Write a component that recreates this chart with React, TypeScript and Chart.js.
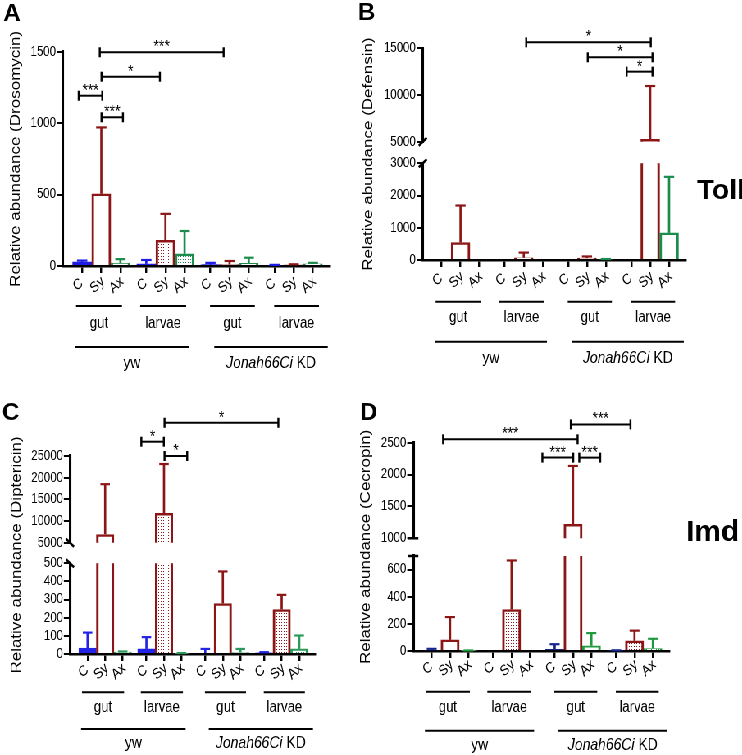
import React, { useEffect, useRef } from 'react';
import { Chart, registerables } from 'chart.js';

Chart.register(...registerables);

const SX = 0.82; // horizontal squeeze of the reference figure
const FONT = "'Liberation Sans', Arial, Helvetica, sans-serif";
const P = 3.35; // group period in bar units
const XMIN = -1;
const XMAX = 12.95;

// ---------------- data ----------------
const barLabels = ['C', 'Sy', 'Ax'];
const tissueLabels = ['gut', 'larvae', 'gut', 'larvae'];
const genotypeItalic = ['', 'Jonah66Ci'];
const genotypePlain = ['yw', ' KD'];

// order: yw gut C,Sy,Ax | yw larvae C,Sy,Ax | KD gut C,Sy,Ax | KD larvae C,Sy,Ax
const drosomycinMean = [30, 505, 20, 15, 180, 85, 10, 10, 18, 5, 8, 15];
const drosomycinErr = [8, 465, 28, 27, 185, 160, 12, 25, 40, 3, 4, 7];
const drosomycinAxis = [{ min: 0, max: 1500, step: 500 }];
const drosomycinBrackets = [
  { x1: 0.92, x2: 7.39, y: 1496, label: '***' },
  { x1: 1.01, x2: 4.06, y: 1325, label: '*' },
  { x1: -0.18, x2: 1.05, y: 1192, label: '***' },
  { x1: 1.01, x2: 2.13, y: 1041, label: '***' },
];

const defensinMean = [0, 540, 0, 0, 70, 0, 0, 60, 20, 0, 5250, 840];
const defensinErr = [0, 1150, 0, 0, 160, 0, 0, 50, 10, 0, 5710, 1740];
const defensinAxis = [
  { min: 5000, max: 15000, step: 5000 },
  { min: 0, max: 3000, step: 1000 },
];
const defensinBrackets = [
  { x1: 4.48, x2: 11.08, y: 15640, label: '*' },
  { x1: 7.74, x2: 11.17, y: 14036, label: '*' },
  { x1: 9.8, x2: 11.17, y: 12500, label: '*' },
];

const diptericinMean = [32, 6900, 10, 28, 11800, 3, 5, 278, 8, 7, 245, 28];
const diptericinErr = [86, 11600, 4, 65, 11350, 2, 23, 177, 20, 3, 81, 74];
const diptericinAxis = [
  { min: 5000, max: 25000, step: 5000 },
  { min: 0, max: 500, step: 100 },
];
const diptericinBrackets = [
  { x1: 4.38, x2: 10.86, y: 32670, label: '*' },
  { x1: 3.06, x2: 4.34, y: 28300, label: '*' },
  { x1: 4.38, x2: 5.67, y: 25000, label: '*' },
];

const cecropinMean = [5, 82, 3, 0, 305, 0, 13, 1220, 38, 3, 75, 18];
const cecropinErr = [11, 168, 1, 0, 362, 0, 37, 915, 94, 2, 75, 72];
const cecropinAxis = [
  { min: 1000, max: 2500, step: 500 },
  { min: 0, max: 700, step: 200 },
];
const cecropinBrackets = [
  { x1: 0.62, x2: 7.95, y: 2553, label: '***' },
  { x1: 7.58, x2: 10.83, y: 2787, label: '***' },
  { x1: 6.03, x2: 7.71, y: 2266, label: '***' },
  { x1: 8.04, x2: 9.18, y: 2266, label: '***' },
];

// ---------------- panel layout ----------------
const panels = [
  {
    key: 'A', letter: 'A', title: 'Relative abundance (Drosomycin)',
    mean: drosomycinMean, err: drosomycinErr, segs: drosomycinAxis, brackets: drosomycinBrackets,
    segH: [214.3], gapH: 0,
    box: { left: 0, top: 0, width: 355, height: 378 },
    area: { left: 63, right: 330, top: 51.7, bottom: 266 },
    titleX: 16, letterPos: [12, 14.7], side: null,
    breakStyle: 'none',
    colors: ['#1c1ce6', '#8c1616', '#1b8c4c'],
    dotted: [4, 5, 10, 11],
    offs: [19, 40, 57.5, 81, 97],
  },
  {
    key: 'B', letter: 'B', title: 'Relative abundance (Defensin)',
    mean: defensinMean, err: defensinErr, segs: defensinAxis, brackets: defensinBrackets,
    segH: [93.4, 96.7], gapH: 21.6,
    box: { left: 355, top: 0, width: 387, height: 378 },
    area: { left: 67.7, right: 331, top: 48.3, bottom: 260 },
    titleX: 13, letterPos: [11.5, 13.3], side: { text: 'Toll', x: 342, y: 191.7, size: 28 },
    breakStyle: 'slash',
    colors: ['#1c1ce6', '#8c1616', '#1b8c4c'],
    dotted: [],
    offs: [20, 41.7, 57.7, 81.7, 98.3],
  },
  {
    key: 'C', letter: 'C', title: 'Relative abundance (Diptericin)',
    mean: diptericinMean, err: diptericinErr, segs: diptericinAxis, brackets: diptericinBrackets,
    segH: [86.7, 90.7], gapH: 20.6,
    box: { left: 0, top: 378, width: 355, height: 377 },
    area: { left: 70, right: 315, top: 78, bottom: 276 },
    titleX: 17, letterPos: [10.8, 35.3], side: null,
    breakStyle: 'back',
    colors: ['#2323e6', '#8c1616', '#2a9a5a'],
    dotted: [4, 10, 11],
    offs: [17.7, 38.3, 53.3, 75, 89.3],
  },
  {
    key: 'D', letter: 'D', title: 'Relative abundance (Cecropin)',
    mean: cecropinMean, err: cecropinErr, segs: cecropinAxis, brackets: cecropinBrackets,
    segH: [95.6, 95], gapH: 17.7,
    box: { left: 355, top: 378, width: 387, height: 377 },
    area: { left: 58.3, right: 314.3, top: 64.7, bottom: 273 },
    titleX: 11, letterPos: [13.5, 35.3], side: { text: 'Imd', x: 331, y: 154.5, size: 30 },
    breakStyle: 'cap',
    colors: ['#17258f', '#8c1616', '#1f9a3c'],
    dotted: [4, 10, 11],
    offs: [17.3, 40.7, 56.3, 79.7, 94],
  },
];

// ---------------- helpers ----------------
function line(ctx: CanvasRenderingContext2D, x1: number, y1: number, x2: number, y2: number) {
  ctx.beginPath();
  ctx.moveTo(x1, y1);
  ctx.lineTo(x2, y2);
  ctx.stroke();
}

function dotPattern(ctx: CanvasRenderingContext2D, color: string) {
  const c = document.createElement('canvas');
  c.width = 3;
  c.height = 3;
  const g = c.getContext('2d')!;
  g.fillStyle = '#ffffff';
  g.fillRect(0, 0, 3, 3);
  g.fillStyle = color;
  g.fillRect(1, 1, 1, 1);
  return ctx.createPattern(c, 'repeat');
}

function makePlugin(cfg: any, pos: number[]) {
  const segCount = cfg.segs.length;
  const pix = (chart: any, v: number) => {
    for (let k = 0; k < segCount; k++) {
      const s = cfg.segs[k];
      if (v >= s.min && v <= s.max) return chart.scales['y' + k].getPixelForValue(v);
    }
    if (v > cfg.segs[0].max) return chart.scales.y0.getPixelForValue(v);
    return chart.scales['y' + (segCount - 1)].getPixelForValue(v);
  };
  return {
    id: 'decor' + cfg.key,
    afterDatasetsDraw(chart: any) {
      const ctx: CanvasRenderingContext2D = chart.ctx;
      const xs = chart.scales.x;
      const capHalf = Math.abs(xs.getPixelForValue(0.27) - xs.getPixelForValue(0));
      ctx.save();
      cfg.mean.forEach((m: number, i: number) => {
        const e = cfg.err[i];
        if (!(e > 0)) return;
        const top = m + e;
        const x = xs.getPixelForValue(pos[i]);
        ctx.strokeStyle = cfg.colors[i % 3];
        ctx.lineWidth = 2.2 / SX;
        cfg.segs.forEach((s: any, k: number) => {
          const lo = Math.max(m, s.min);
          const hi = Math.min(top, s.max);
          if (hi > lo) {
            const sc = chart.scales['y' + k];
            line(ctx, x, sc.getPixelForValue(lo), x, sc.getPixelForValue(hi));
          }
        });
        const yt = pix(chart, top);
        ctx.lineWidth = 2.2;
        line(ctx, x - capHalf, yt, x + capHalf, yt);
      });
      ctx.restore();
    },
    afterDraw(chart: any) {
      const ctx: CanvasRenderingContext2D = chart.ctx;
      const xs = chart.scales.x;
      const ca = chart.chartArea;
      const X = (u: number) => xs.getPixelForValue(u);
      const base = ca.bottom;
      const [dLab, dGL, dGT, dPL, dPT] = cfg.offs;
      ctx.save();
      ctx.fillStyle = '#000';
      ctx.strokeStyle = '#000';

      // axis breaks
      ctx.lineWidth = 2.5;
      const ax = ca.left;
      for (let k = 0; k < segCount - 1; k++) {
        const ys = [chart.scales['y' + k].bottom, chart.scales['y' + (k + 1)].top];
        ys.forEach((y: number) => {
          if (cfg.breakStyle === 'slash') line(ctx, ax - 4 / SX, y + 4, ax + 4 / SX, y - 4);
          else if (cfg.breakStyle === 'back') line(ctx, ax - 4 / SX, y - 4, ax + 4 / SX, y + 4);
          else if (cfg.breakStyle === 'cap') line(ctx, ax - 5 / SX, y, ax + 5 / SX, y);
        });
      }

      // significance brackets
      cfg.brackets.forEach((b: any) => {
        const x1 = X(b.x1);
        const x2 = X(b.x2);
        const y = pix(chart, b.y);
        ctx.lineWidth = 2;
        line(ctx, x1, y, x2, y);
        ctx.lineWidth = 2 / SX;
        line(ctx, x1, y - 5, x1, y + 5);
        line(ctx, x2, y - 5, x2, y + 5);
        ctx.font = `17px ${FONT}`;
        ctx.textAlign = 'center';
        ctx.textBaseline = 'alphabetic';
        ctx.fillText(b.label, (x1 + x2) / 2, y);
      });

      // rotated bar labels
      ctx.font = `15px ${FONT}`;
      ctx.textAlign = 'center';
      ctx.textBaseline = 'middle';
      pos.forEach((p: number, i: number) => {
        ctx.save();
        ctx.translate(X(p) - 4 / SX, base + dLab);
        ctx.rotate((-38 * Math.PI) / 180);
        ctx.fillText(barLabels[i % 3], 0, 0);
        ctx.restore();
      });

      // tissue lines + labels
      ctx.lineWidth = 2;
      for (let g = 0; g < 4; g++) {
        const a = g < 2 ? -0.32 : -0.02;
        const b = g < 2 ? 2.08 : 2.32;
        const x1 = X(g * P + a);
        const x2 = X(g * P + b);
        line(ctx, x1, base + dGL, x2, base + dGL);
        ctx.font = `16px ${FONT}`;
        ctx.textAlign = 'center';
        ctx.fillText(tissueLabels[g], (x1 + x2) / 2, base + dGT);
      }

      // genotype lines + labels
      const gl = [[-0.37, P + 2.23], [2 * P + 0.2, 3 * P + 2.78]];
      gl.forEach(([a, b], k) => {
        const x1 = X(a);
        const x2 = X(b);
        line(ctx, x1, base + dPL, x2, base + dPL);
        const it = genotypeItalic[k];
        const pl = genotypePlain[k];
        ctx.font = `italic 17px ${FONT}`;
        const w1 = it ? ctx.measureText(it).width : 0;
        ctx.font = `17px ${FONT}`;
        const w2 = ctx.measureText(pl).width;
        let x = (x1 + x2) / 2 - (w1 + w2) / 2;
        ctx.textAlign = 'left';
        if (it) {
          ctx.font = `italic 17px ${FONT}`;
          ctx.fillText(it, x, base + dPT);
          x += w1;
        }
        ctx.font = `17px ${FONT}`;
        ctx.fillText(pl, x, base + dPT);
      });

      // y title
      ctx.save();
      ctx.translate(cfg.titleX / SX, (ca.top + ca.bottom) / 2);
      ctx.rotate(-Math.PI / 2);
      ctx.font = `17px ${FONT}`;
      ctx.textAlign = 'center';
      ctx.textBaseline = 'middle';
      ctx.fillText(cfg.title, 0, 0);
      ctx.restore();

      // panel letter
      ctx.save();
      ctx.translate(cfg.letterPos[0] / SX, cfg.letterPos[1]);
      ctx.scale(1 / SX, 1);
      ctx.font = `bold 24px ${FONT}`;
      ctx.textAlign = 'center';
      ctx.textBaseline = 'middle';
      ctx.fillText(cfg.letter, 0, 0);
      ctx.restore();

      if (cfg.side) {
        ctx.save();
        ctx.translate(cfg.side.x / SX, cfg.side.y);
        ctx.scale(1 / SX, 1);
        ctx.font = `bold ${cfg.side.size}px ${FONT}`;
        ctx.textAlign = 'left';
        ctx.textBaseline = 'middle';
        ctx.fillText(cfg.side.text, 0, 0);
        ctx.restore();
      }
      ctx.restore();
    },
  };
}

function buildChart(canvas: HTMLCanvasElement, cfg: any) {
  const ctx = canvas.getContext('2d')!;
  const pos: number[] = [];
  for (let g = 0; g < 4; g++) for (let i = 0; i < 3; i++) pos.push(g * P + i);
  const borderColors = cfg.mean.map((_: number, i: number) => cfg.colors[i % 3]);
  const fills = cfg.mean.map((_: number, i: number) =>
    i % 3 === 0 ? cfg.colors[0] : cfg.dotted.includes(i) ? dotPattern(ctx, cfg.colors[i % 3]) : '#ffffff'
  );
  const data = cfg.mean.map((v: number, i: number) => ({ x: pos[i], y: v }));

  const yW = cfg.area.left / SX;
  const xH = cfg.box.height - cfg.area.bottom;
  const padR = (cfg.box.width - cfg.area.right) / SX;
  const padT = cfg.area.top;

  const scales: any = {
    x: {
      type: 'linear',
      axis: 'x',
      position: 'bottom',
      min: XMIN,
      max: XMAX,
      offset: false,
      afterBuildTicks: (s: any) => {
        s.ticks = pos.map((v) => ({ value: v }));
      },
      ticks: { display: false },
      grid: { display: true, drawOnChartArea: false, drawTicks: true, tickLength: 7, lineWidth: 2 / SX, color: '#000', offset: false },
      border: { display: true, width: 2.5, color: '#000' },
      afterFit: (s: any) => {
        s.height = xH;
      },
    },
  };

  const order: any[] = [];
  cfg.segs.forEach((s: any, k: number) => {
    order.push({ id: 'y' + k, seg: s, h: cfg.segH[k] });
    if (k < cfg.segs.length - 1) order.push({ id: 'g' + k, seg: null, h: cfg.gapH });
  });
  order.forEach((o, j) => {
    const weight = order.length - j;
    if (o.seg) {
      const s = o.seg;
      scales[o.id] = {
        type: 'linear',
        axis: 'y',
        position: 'left',
        stack: 'v',
        stackWeight: o.h,
        weight,
        min: s.min,
        max: s.max,
        beginAtZero: false,
        afterBuildTicks: (sc: any) => {
          const t: any[] = [];
          for (let v = s.min; v <= s.max + 1e-9; v += s.step) t.push({ value: v });
          sc.ticks = t;
        },
        ticks: {
          stepSize: s.step,
          color: '#000',
          font: { family: FONT, size: 14 },
          padding: 1,
          autoSkip: false,
          callback: (v: any) => String(v),
        },
        grid: { display: true, drawOnChartArea: false, drawTicks: true, tickLength: 7.5, lineWidth: 2, color: '#000' },
        border: { display: true, width: 2.5 / SX, color: '#000' },
        afterFit: (sc: any) => {
          sc.width = yW;
        },
      };
    } else {
      scales[o.id] = {
        type: 'linear',
        axis: 'y',
        position: 'left',
        stack: 'v',
        stackWeight: o.h,
        weight,
        min: 0,
        max: 1,
        ticks: { display: false },
        grid: { display: false },
        border: { display: false },
        afterFit: (sc: any) => {
          sc.width = yW;
        },
      };
    }
  });

  const datasets = cfg.segs.map((_: any, k: number) => ({
    type: 'bar',
    data,
    xAxisID: 'x',
    yAxisID: 'y' + k,
    backgroundColor: fills,
    borderColor: borderColors,
    borderWidth: { left: 2.5 / SX, right: 2.5 / SX, top: 2.5, bottom: 0 },
    borderSkipped: 'start',
    barPercentage: 1,
    categoryPercentage: 1,
    grouped: false,
    clip: { left: 30, right: 30, top: 0, bottom: 0 },
  }));

  return new Chart(canvas, {
    type: 'bar',
    data: { datasets },
    options: {
      responsive: false,
      animation: false,
      devicePixelRatio: 1,
      events: [],
      layout: { padding: { left: 0, right: padR, top: padT, bottom: 0 } },
      plugins: { legend: { display: false }, tooltip: { enabled: false }, title: { display: false } },
      scales,
    },
    plugins: [makePlugin(cfg, pos)],
  } as any);
}

function Panel({ cfg }: { cfg: any }) {
  const ref = useRef<HTMLCanvasElement>(null);
  useEffect(() => {
    const chart = buildChart(ref.current!, cfg);
    return () => chart.destroy();
  }, [cfg]);
  const w = Math.round(cfg.box.width / SX);
  return (
    <div
      style={{
        position: 'absolute',
        left: cfg.box.left / SX,
        top: cfg.box.top,
        width: w,
        height: cfg.box.height,
      }}
    >
      <canvas ref={ref} width={w} height={cfg.box.height} />
    </div>
  );
}

export default function App() {
  return (
    <div
      style={{
        position: 'fixed',
        left: 0,
        top: 0,
        width: 742,
        height: 755,
        overflow: 'hidden',
        background: '#ffffff',
      }}
    >
      <div
        style={{
          position: 'absolute',
          left: 0,
          top: 0,
          width: 742 / SX,
          height: 755,
          transform: `scaleX(${SX})`,
          transformOrigin: '0 0',
        }}
      >
        {panels.map((p) => (
          <Panel key={p.key} cfg={p} />
        ))}
      </div>
    </div>
  );
}
